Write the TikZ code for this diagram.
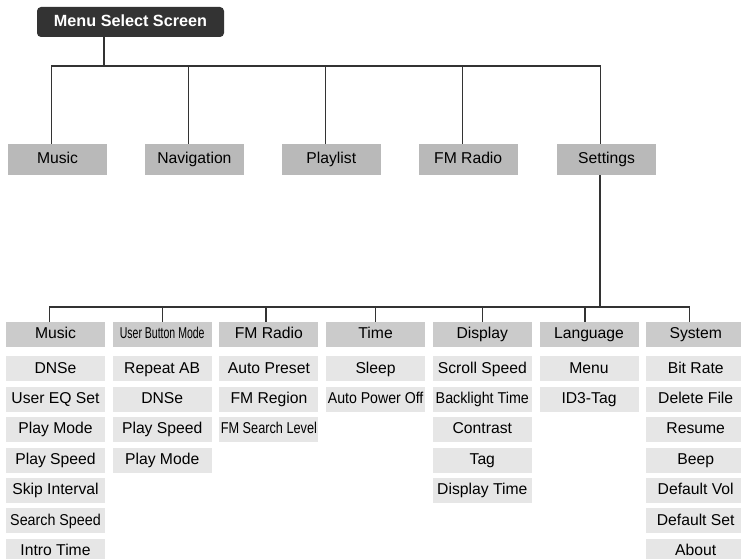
\documentclass[tikz,border=0pt]{standalone}
\usepackage{fontspec}
\setmainfont{Liberation Sans}
\usepackage{graphicx}
\usetikzlibrary{positioning}

\definecolor{topgray}{HTML}{333333}
\definecolor{mainfill}{HTML}{B9B9B9}
\definecolor{headfill}{HTML}{CBCBCB}
\definecolor{itemfill}{HTML}{E6E6E6}
\definecolor{linegray}{HTML}{333333}
\newcommand{\narrowtext}[2]{\scalebox{#1}[1]{#2}}

\begin{document}
\begin{tikzpicture}[
  x=1pt, y=-1pt,
  node distance=5pt and 7.3pt,
  topbox/.style={rectangle, fill=topgray, rounded corners=4pt, minimum width=187pt,
                 minimum height=30pt, inner sep=0pt, text=white,
                 text height=11.8pt, text depth=3.4pt,
                 font=\fontsize{16.2}{19}\selectfont\bfseries},
  mainbox/.style={rectangle, fill=mainfill, minimum width=99pt, minimum height=31pt,
                  inner sep=0pt, text height=11.5pt, text depth=3.3pt,
                  font=\fontsize{15.7}{18}\selectfont},
  headbox/.style={rectangle, fill=headfill, minimum width=99pt, minimum height=25pt,
                  inner sep=0pt, text height=11.5pt, text depth=3.3pt,
                  font=\fontsize{15.7}{18}\selectfont},
  itembox/.style={rectangle, fill=itemfill, minimum width=99pt, minimum height=25pt,
                  inner sep=0pt, text height=11.5pt, text depth=3.3pt,
                  font=\fontsize{15.7}{18}\selectfont},
  link/.style={draw=linegray, line width=1.3pt}
]
  \useasboundingbox (0,0) rectangle (741,559);

  \node[topbox] (menu) at (130.5,22) {Menu Select Screen};

  \node[mainbox] (music) at (57.5,159.5) {Music};
  \node[mainbox, right=37.5pt of music]    (nav)      {Navigation};
  \node[mainbox, right=37.5pt of nav]      (playlist) {Playlist};
  \node[mainbox, right=37.5pt of playlist] (fmradio)  {FM Radio};
  \node[mainbox, right=39pt of fmradio]    (settings) {Settings};

  \node[headbox] (smusic) at (55.5,334.5) {Music};
  \node[headbox, right=of smusic]   (sbutton)  {\narrowtext{0.67}{User Button Mode}};
  \node[headbox, right=of sbutton]  (sfm)      {FM Radio};
  \node[headbox, right=of sfm]      (stime)    {Time};
  \node[headbox, right=of stime]    (sdisplay) {Display};
  \node[headbox, right=of sdisplay] (slang)    {Language};
  \node[headbox, right=of slang]    (ssystem)  {System};

  % Music
  \node[itembox, below=9pt of smusic] (mdnse)     {DNSe};
  \node[itembox, below=of mdnse]      (mureq)     {User EQ Set};
  \node[itembox, below=of mureq]      (mplaymode) {Play Mode};
  \node[itembox, below=of mplaymode]  (mplayspd)  {Play Speed};
  \node[itembox, below=of mplayspd]   (mskip)     {Skip Interval};
  \node[itembox, below=of mskip]      (msearch)   {\narrowtext{0.91}{Search Speed}};
  \node[itembox, below=of msearch]    (mintro)    {Intro Time};

  % User Button Mode
  \node[itembox, below=9pt of sbutton] (brepeat)   {Repeat AB};
  \node[itembox, below=of brepeat]     (bdnse)     {DNSe};
  \node[itembox, below=of bdnse]       (bplayspd)  {Play Speed};
  \node[itembox, below=of bplayspd]    (bplaymode) {Play Mode};

  % FM Radio
  \node[itembox, below=9pt of sfm] (fpreset) {Auto Preset};
  \node[itembox, below=of fpreset] (fregion) {FM Region};
  \node[itembox, below=of fregion] (flevel)  {\narrowtext{0.81}{FM Search Level}};

  % Time
  \node[itembox, below=9pt of stime] (tsleep) {Sleep};
  \node[itembox, below=of tsleep]    (toff)   {\narrowtext{0.9}{Auto Power Off}};

  % Display
  \node[itembox, below=9pt of sdisplay] (dscroll)   {Scroll Speed};
  \node[itembox, below=of dscroll]      (dback)     {\narrowtext{0.91}{Backlight Time}};
  \node[itembox, below=of dback]        (dcontrast) {Contrast};
  \node[itembox, below=of dcontrast]    (dtag)      {Tag};
  \node[itembox, below=of dtag]         (dtime)     {Display Time};

  % Language
  \node[itembox, below=9pt of slang] (lmenu) {Menu};
  \node[itembox, below=of lmenu]     (ltag)  {ID3-Tag};

  % System
  \node[itembox, below=9pt of ssystem] (ybit)     {Bit Rate};
  \node[itembox, below=of ybit]        (ydelete)  {Delete File};
  \node[itembox, below=of ydelete]     (yresume)  {Resume};
  \node[itembox, below=of yresume]     (ybeep)    {Beep};
  \node[itembox, below=of ybeep]       (yvol)     {Default Vol};
  \node[itembox, below=of yvol]        (yset)     {Default Set};
  \node[itembox, below=of yset]        (yabout)   {About};

  % first level
  \coordinate (topsplit) at (104,66);
  \draw[link] (menu.south -| topsplit) -- (topsplit);
  \draw[link] ([xshift=-6pt]music.north) -- ([xshift=-6pt]music.north |- topsplit)
              -- ([xshift=-6pt]settings.north |- topsplit) -- ([xshift=-6pt]settings.north);
  \draw[link] ([xshift=-6pt]nav.north) -- ([xshift=-6pt]nav.north |- topsplit);
  \draw[link] ([xshift=-6pt]playlist.north) -- ([xshift=-6pt]playlist.north |- topsplit);
  \draw[link] ([xshift=-6pt]fmradio.north) -- ([xshift=-6pt]fmradio.north |- topsplit);

  % settings level
  \coordinate (setsplit) at (600,307);
  \draw[link] (settings.south -| setsplit) -- (setsplit);
  \draw[link] ([xshift=-6pt]smusic.north) -- ([xshift=-6pt]smusic.north |- setsplit)
              -- ([xshift=-6pt]ssystem.north |- setsplit) -- ([xshift=-6pt]ssystem.north);
  \draw[link] (sbutton.north) -- (sbutton.north |- setsplit);
  \draw[link] ([xshift=-3pt]sfm.north) -- ([xshift=-3pt]sfm.north |- setsplit);
  \draw[link] (stime.north) -- (stime.north |- setsplit);
  \draw[link] (sdisplay.north) -- (sdisplay.north |- setsplit);
  \draw[link] ([xshift=-4pt]slang.north) -- ([xshift=-4pt]slang.north |- setsplit);
\end{tikzpicture}
\end{document}
